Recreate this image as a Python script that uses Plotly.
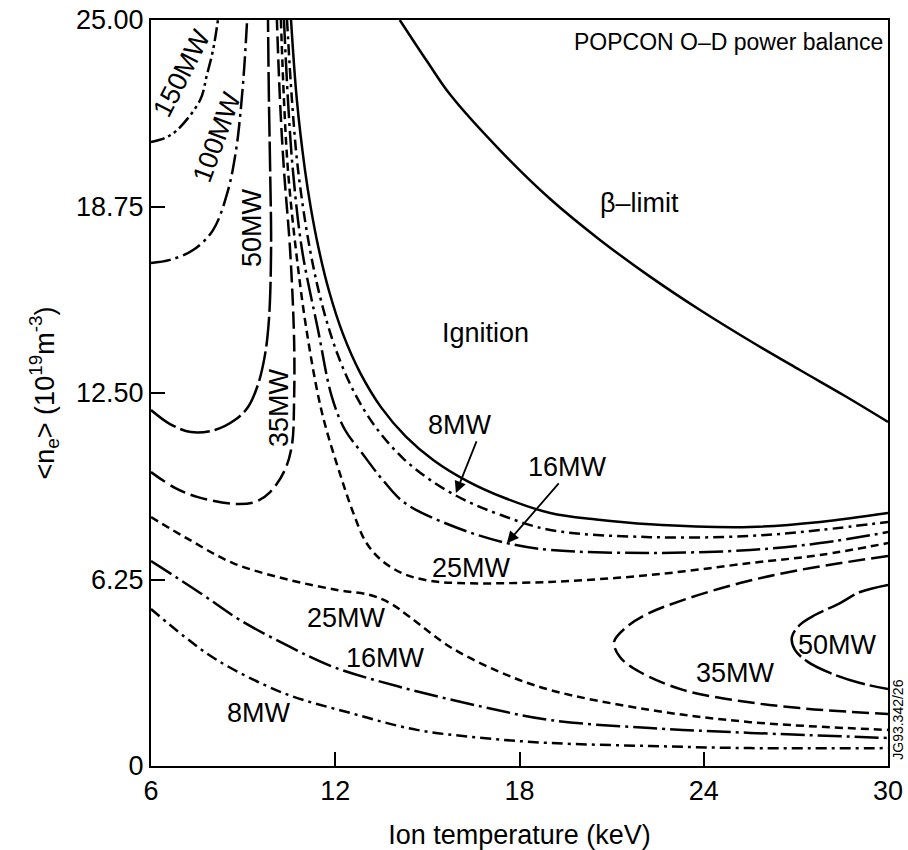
import plotly.graph_objects as go

# ---- POPCON contour data: ion temperature T (keV) vs <n_e> (1e19 m^-3) ----
ign_T = [10.56, 10.75, 11.01, 11.20, 11.47, 11.80, 12.25, 12.80, 13.50, 14.30, 15.20, 16.30, 17.50, 19.00, 20.50, 22.25, 25.51, 27.79, 30.0]
ign_n = [25.0, 22.32, 20.00, 18.73, 17.29, 15.91, 14.48, 13.20, 12.01, 11.04, 10.25, 9.55, 8.99, 8.48, 8.26, 8.10, 8.01, 8.18, 8.48]

beta_T = [14.1, 15.0, 15.74, 17.36, 19.0, 20.62, 22.25, 23.88, 25.5, 27.13, 28.6, 30.0]
beta_n = [25.0, 23.6, 22.5, 20.64, 19.0, 17.63, 16.4, 15.28, 14.25, 13.27, 12.4, 11.53]

mw8_up_T = [10.43, 10.59, 10.79, 11.18, 11.60, 12.10, 12.70, 13.40, 14.20, 15.10, 16.20, 17.40, 19.00, 22.25, 25.51, 27.79, 30.0]
mw8_up_n = [25.0, 22.32, 19.97, 17.29, 15.35, 13.73, 12.36, 11.24, 10.32, 9.58, 8.92, 8.41, 7.91, 7.67, 7.71, 7.91, 8.18]

mw16_up_T = [10.33, 10.46, 10.62, 10.92, 11.44, 11.89, 12.32, 12.87, 13.55, 14.27, 15.90, 17.59, 18.99, 22.25, 25.51, 27.79, 30.0]
mw16_up_n = [25.0, 22.32, 19.97, 17.29, 14.61, 12.37, 11.26, 10.49, 9.58, 8.81, 8.01, 7.47, 7.24, 7.14, 7.24, 7.47, 7.84]

mw25_up_T = [10.23, 10.33, 10.46, 10.72, 11.08, 11.57, 12.22, 12.60, 13.00, 13.50, 14.20, 15.00, 16.00, 18.99, 22.25, 25.51, 27.79, 30.0]
mw25_up_n = [25.0, 22.32, 19.97, 17.29, 14.51, 11.83, 9.58, 8.45, 7.50, 6.90, 6.45, 6.22, 6.13, 6.17, 6.40, 6.80, 7.07, 7.47]

mw35_left_T = [6.0, 6.78, 7.53, 8.74, 9.39, 9.88, 10.36, 10.59, 10.66, 10.66, 10.53, 10.33, 10.20, 10.10]
mw35_left_n = [9.85, 9.32, 9.01, 8.78, 8.85, 9.18, 9.92, 10.76, 12.27, 14.28, 17.29, 19.97, 22.32, 25.0]

mw50_left_T = [6.0, 6.62, 7.30, 8.08, 8.74, 9.16, 9.48, 9.71, 9.84, 9.91, 9.88, 9.84, 9.81]
mw50_left_n = [11.93, 11.46, 11.19, 11.26, 11.60, 12.03, 12.77, 13.77, 14.95, 17.29, 19.97, 22.32, 25.0]

mw100_T = [6.0, 6.62, 7.37, 8.02, 8.51, 8.77, 8.90, 9.03, 9.13]
mw100_n = [16.86, 16.96, 17.29, 17.96, 19.30, 20.64, 21.75, 23.32, 25.0]

mw150_T = [6.0, 6.46, 6.85, 7.60, 7.82, 8.02, 8.18]
mw150_n = [20.91, 21.05, 21.31, 22.32, 23.16, 23.99, 25.0]

mw25_low_T = [6.0, 7.27, 8.67, 10.53, 12.06, 13.13, 13.78, 14.43, 15.74, 17.36, 18.99, 22.25, 25.51, 30.0]
mw25_low_n = [8.34, 7.57, 6.80, 6.23, 5.90, 5.73, 5.46, 4.99, 3.99, 3.15, 2.55, 1.88, 1.47, 1.21]

mw16_low_T = [6.0, 7.60, 8.90, 10.53, 11.93, 14.11, 16.81, 18.99, 22.25, 25.51, 30.0]
mw16_low_n = [6.87, 5.80, 4.89, 3.99, 3.32, 2.65, 1.98, 1.54, 1.27, 1.11, 0.94]

mw8_low_T = [6.0, 7.11, 8.15, 10.30, 12.48, 14.66, 16.81, 18.99, 22.25, 25.51, 30.0]
mw8_low_n = [5.26, 4.32, 3.55, 2.45, 1.78, 1.21, 0.94, 0.77, 0.67, 0.60, 0.60]

mw35_right_T = [30.0, 27.13, 25.18, 23.32, 22.09, 21.44, 21.08, 21.27, 21.92, 23.32, 25.18, 27.13, 30.0]
mw35_right_n = [7.04, 6.57, 6.13, 5.56, 5.06, 4.62, 4.16, 3.65, 3.15, 2.55, 2.18, 1.94, 1.74]

mw50_right_T = [30.0, 29.09, 28.44, 27.62, 27.13, 26.87, 26.97, 27.39, 28.11, 29.09, 30.0]
mw50_right_n = [6.07, 5.83, 5.46, 5.06, 4.73, 4.32, 3.89, 3.49, 3.12, 2.78, 2.58]

x_ticks = [6, 12, 18, 24, 30]
y_ticks = [0, 6.25, 12.5, 18.75, 25]
y_tick_text = ["0", "6.25", "12.50", "18.75", "25.00"]

# ---- line styles per power level ----
SOLID = "solid"
DASH_8 = "11px,5px,3px,5px"
DASH_16 = "24px,5px,3px,5px"
DASH_25 = "8px,5px"
DASH_35 = "17px,6px"
DASH_50 = "30px,5px"
DASH_100 = "20px,5px,3px,5px"
DASH_150 = "14px,4px,3px,4px,3px,4px"

curves = [
    (ign_T, ign_n, SOLID),
    (beta_T, beta_n, SOLID),
    (mw8_up_T, mw8_up_n, DASH_8),
    (mw16_up_T, mw16_up_n, DASH_16),
    (mw25_up_T, mw25_up_n, DASH_25),
    (mw35_left_T, mw35_left_n, DASH_35),
    (mw50_left_T, mw50_left_n, DASH_50),
    (mw100_T, mw100_n, DASH_100),
    (mw150_T, mw150_n, DASH_150),
    (mw25_low_T, mw25_low_n, DASH_25),
    (mw16_low_T, mw16_low_n, DASH_16),
    (mw8_low_T, mw8_low_n, DASH_8),
    (mw35_right_T, mw35_right_n, DASH_35),
    (mw50_right_T, mw50_right_n, DASH_50),
]

FONT = "Liberation Sans, Arial, Helvetica, sans-serif"
LBL = 27

fig = go.Figure()
for xs, ys, dash in curves:
    fig.add_trace(go.Scatter(
        x=xs, y=ys, mode="lines",
        line=dict(color="black", width=2.5, dash=dash, shape="spline", smoothing=1.0),
        hoverinfo="skip", showlegend=False,
    ))


def label(text, x, y, angle=0, size=LBL, **kw):
    fig.add_annotation(text=text, x=x, y=y, xref="x", yref="y", showarrow=False,
                       textangle=angle, font=dict(family=FONT, size=size, color="black"), **kw)


def arrow(x0, y0, x1, y1):
    fig.add_annotation(text="", x=x1, y=y1, ax=x0, ay=y0, xref="x", yref="y",
                       axref="x", ayref="y", showarrow=True, arrowhead=2,
                       arrowsize=1.3, arrowwidth=1.8, arrowcolor="black")


label("POPCON O\u2013D power balance", 29.9, 24.26, size=23, xanchor="right")
label("\u03b2\u2013limit", 21.92, 18.87)
label("Ignition", 16.88, 14.51)
label("8MW", 16.06, 11.43)
label("16MW", 19.55, 10.02)
label("25MW", 16.45, 6.64)
label("25MW", 12.38, 4.96)
label("16MW", 13.62, 3.62)
label("8MW", 9.52, 1.78)
label("35MW", 25.05, 3.12)
label("50MW", 28.37, 4.05)
label("50MW", 9.29, 18.03, angle=-90)
label("35MW", 10.17, 12.00, angle=-90)
label("100MW", 8.15, 21.08, angle=-70)
label("150MW", 7.01, 23.22, angle=-63)

arrow(16.62, 10.93, 15.93, 9.15)
arrow(19.32, 9.52, 17.59, 7.47)

fig.add_annotation(text="JG93.342/26", xref="paper", yref="paper", x=1.0, y=0.062,
                   xanchor="center", yanchor="middle", xshift=10, showarrow=False,
                   textangle=-90, font=dict(family=FONT, size=14, color="black"))

axis_common = dict(
    showline=True, linewidth=2, linecolor="black", mirror=True,
    ticks="inside", ticklen=14, tickwidth=2, tickcolor="black",
    showgrid=False, zeroline=False,
    tickfont=dict(family=FONT, size=LBL, color="black"),
)

fig.update_xaxes(range=[6, 30], tickvals=x_ticks, ticktext=[str(v) for v in x_ticks],
                 title=dict(text="Ion temperature (keV)", standoff=22,
                            font=dict(family=FONT, size=LBL, color="black")),
                 **axis_common)
fig.update_yaxes(range=[0, 25], tickvals=y_ticks, ticktext=y_tick_text,
                 title=dict(text="&lt;n<sub>e</sub>&gt; (10<sup>19</sup>m<sup>-3</sup>)", standoff=14,
                            font=dict(family=FONT, size=LBL, color="black")),
                 **axis_common)

fig.update_layout(
    width=908, height=850,
    margin=dict(l=151, r=20, t=20, b=84, autoexpand=False),
    paper_bgcolor="white", plot_bgcolor="white",
    font=dict(family=FONT, color="black"),
)

fig.write_html("out.html")
